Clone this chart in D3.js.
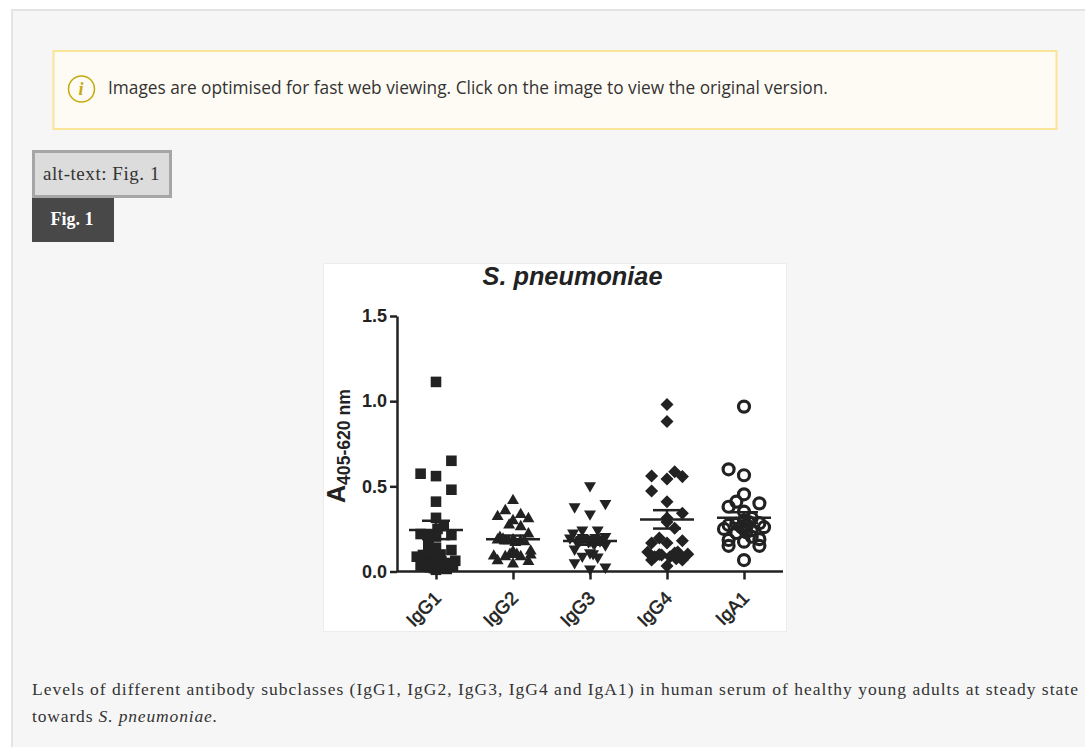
<!DOCTYPE html>
<html>
<head>
<meta charset="utf-8">
<title>S. pneumoniae</title>
<script src="https://cdn.jsdelivr.net/npm/d3@7"></script>
<style>
  html, body { margin: 0; padding: 0; background: #fff; overflow: hidden; }
  svg { display: block; }
</style>
</head>
<body>
<div id="chart"></div>
<script>
// Data
var categories = ['IgG1', 'IgG2', 'IgG3', 'IgG4', 'IgA1'];
var yTicks = [0, 0.5, 1.0, 1.5];

var igg1Values = [1.113, 0.65, 0.574, 0.56, 0.48, 0.41, 0.315, 0.267, 0.22, 0.205, 0.214, 0.155, 0.126, 0.087, 0.087, 0.063, 0.097, 0.16, 0.14, 0.035, 0.03, 0.025, 0.02, 0.015, 0.03, 0.02, 0.015, 0.035, 0.01, 0.04, 0.05, 0.05, 0.06, 0.03, 0.06, 0.1, 0.1, 0.21, 0.25, 0.11];
var igg1Spread = [0, 2, -2, 0, 2, 0, 0, 1, -2, 0, 2, -1, 2, -2.5, 0, 2.5, -1.7, -1, 0, -2, -1.4, -0.8, -0.3, 0, 0.4, 0.9, 1.4, 1.9, 0, -1, -1.5, 1.5, -0.5, 2.2, 0.7, -1, 0.6, -1, 0.2, -1];

var igg2Values = [0.416, 0.357, 0.322, 0.334, 0.31, 0.298, 0.272, 0.263, 0.22, 0.2, 0.185, 0.185, 0.18, 0.18, 0.18, 0.116, 0.087, 0.1, 0.09, 0.063, 0.087, 0.097, 0.058, 0.044, 0.1, 0.12, 0.19, 0.17, 0.175];
var igg2Spread = [0, -1, -2, 1, 2, 0, -0.5, 1, 2, -1.7, -2, 0, -1, 1, -0.6, 0, -1, -0.4, -2.5, -2, 1, 2.3, 2, 0, 0.5, 2.3, -1.3, 0.3, 1.5];

var igg3Values = [0.504, 0.38, 0.4, 0.338, 0.244, 0.244, 0.226, 0.197, 0.206, 0.2, 0.19, 0.18, 0.17, 0.19, 0.18, 0.175, 0.132, 0.156, 0.09, 0.11, 0.105, 0.085, 0.052, 0.015, 0.026, 0.185, 0.195, 0.175, 0.165, 0.2, 0.185];
var igg3Spread = [0, -2, 2, 0, -1, 1, -2.2, -2.6, 2, -1, -0.4, 0, 0.4, 1, 1.3, -1.7, -2, 2, -1, 0, 0.4, 1, -2, 0, 2, -1.3, -0.8, -0.2, 0.6, 0.7, 1.6];

var igg4Values = [0.98, 0.88, 0.56, 0.543, 0.586, 0.557, 0.473, 0.41, 0.342, 0.314, 0.254, 0.29, 0.197, 0.167, 0.167, 0.18, 0.114, 0.087, 0.067, 0.097, 0.108, 0.067, 0.102, 0.085, 0.032, 0.087, 0.1, 0.075, 0.115];
var igg4Spread = [0, 0, -2, 0, 1, 2, -2, 0, 2, 0, 1, 0, -1, -2, 0, 2, -2.5, -1.6, -2, -0.7, 1, 2, 2.7, 1.7, 0, 0.4, -1, 1.2, 1.4];

var iga1Values = [0.968, 0.6, 0.565, 0.453, 0.41, 0.38, 0.4, 0.351, 0.314, 0.3, 0.273, 0.28, 0.284, 0.25, 0.26, 0.25, 0.243, 0.226, 0.185, 0.151, 0.175, 0.19, 0.151, 0.204, 0.067, 0.27, 0.26, 0.29, 0.23];
var iga1Spread = [0, -2, 0, 0, -1, -2, 2, 0, 1, 0, -2, -1, 2, -2.6, 2.6, 0, 1, -1, -2, -2, 0, 2, 2, 1, 0, 0.4, -0.3, 0.6, 0.3];

var means = [0.244, 0.189, 0.179, 0.306, 0.316];
var sems = [0.054, 0.022, 0.022, 0.054, 0.032];

var values = [igg1Values, igg2Values, igg3Values, igg4Values, iga1Values];
var spreads = [igg1Spread, igg2Spread, igg3Spread, igg4Spread, iga1Spread];

// Create SVG Element
var pageWidth = 1085;
var pageHeight = 747;
var svg = d3.select('#chart')
    .append('svg')
    .attr('width', pageWidth)
    .attr('height', pageHeight);

var serif = '"Liberation Serif", serif';
var sans = '"Liberation Sans", Arial, sans-serif';
var ink = '#222';

// Page panel
svg.append('rect')
    .attr('x', 12).attr('y', 10)
    .attr('width', pageWidth).attr('height', pageHeight)
    .attr('fill', '#f6f6f6')
    .attr('stroke', '#e4e4e4')
    .attr('stroke-width', 2);

// Notice box
svg.append('rect')
    .attr('x', 53.5).attr('y', 51)
    .attr('width', 1003).attr('height', 78)
    .attr('fill', '#fefbf4')
    .attr('stroke', '#f9e498')
    .attr('stroke-width', 2);
svg.append('circle')
    .attr('cx', 81.5).attr('cy', 89).attr('r', 13)
    .attr('fill', 'none')
    .attr('stroke', '#c4ab0c')
    .attr('stroke-width', 1.5);
svg.append('text')
    .attr('x', 81).attr('y', 95)
    .attr('text-anchor', 'middle')
    .attr('font-family', serif)
    .attr('font-size', 18)
    .attr('font-style', 'italic')
    .attr('font-weight', 'bold')
    .attr('fill', '#c4ab0c')
    .text('i');
svg.append('text')
    .attr('x', 108).attr('y', 93.5)
    .attr('font-family', '"Open Sans", sans-serif')
    .attr('font-size', 17.3)
    .attr('fill', '#333')
    .text('Images are optimised for fast web viewing. Click on the image to view the original version.');

// Alt text and figure label
svg.append('rect')
    .attr('x', 33.5).attr('y', 151.5)
    .attr('width', 137).attr('height', 45)
    .attr('fill', '#dcdcdc')
    .attr('stroke', '#a6a6a6')
    .attr('stroke-width', 3);
svg.append('text')
    .attr('x', 43).attr('y', 180)
    .attr('font-family', serif)
    .attr('font-size', 19)
    .attr('letter-spacing', 0.55)
    .attr('fill', '#333')
    .text('alt-text: Fig. 1');
svg.append('rect')
    .attr('x', 32).attr('y', 198)
    .attr('width', 82).attr('height', 44)
    .attr('fill', '#484848');
svg.append('text')
    .attr('x', 50.5).attr('y', 225)
    .attr('font-family', serif)
    .attr('font-size', 18)
    .attr('font-weight', 'bold')
    .attr('fill', '#fff')
    .text('Fig. 1');

// Figure background
svg.append('rect')
    .attr('x', 323.5).attr('y', 263.5)
    .attr('width', 463).attr('height', 368)
    .attr('fill', '#fff')
    .attr('stroke', '#ececec');

// Create Scale
var scaleX = d3.scalePoint()
    .domain(categories)
    .range([436, 744]);

var scaleY = d3.scaleLinear()
    .domain([0, 1.5])
    .range([571.5, 316]);

var scaleSpread = d3.scaleLinear()
    .domain([-1, 1])
    .range([-7.7, 7.7]);

// Symbols, one per antibody subclass
var symbolPaths = [
  d3.symbol().type(d3.symbolSquare).size(112)(),
  d3.symbol().type(d3.symbolTriangle).size(62)(),
  d3.symbol().type(d3.symbolTriangle).size(62)(),
  d3.symbol().type(d3.symbolDiamond2).size(108)(),
  d3.symbol().type(d3.symbolCircle).size(95)()
];

// Bind Data and create points
categories.forEach(function(cat, c) {
  svg.append('g')
      .selectAll('path')
      .data(values[c])
      .enter()
      .append('path')
      .attr('d', symbolPaths[c])
      .attr('transform', function(d, i) {
        var t = 'translate(' + (scaleX(cat) + scaleSpread(spreads[c][i])) + ',' + scaleY(d) + ')';
        return c === 2 ? t + ' rotate(180)' : t;
      })
      .attr('fill', c === 4 ? 'none' : ink)
      .attr('stroke', c === 4 ? ink : 'none')
      .attr('stroke-width', 3.2);
});

// Mean and SEM lines
var meanLines = svg.append('g')
    .attr('stroke', ink)
    .attr('stroke-width', 2.5);

categories.forEach(function(cat, c) {
  var cx = scaleX(cat);
  meanLines.append('line')
      .attr('x1', cx - 27).attr('x2', cx + 27)
      .attr('y1', scaleY(means[c])).attr('y2', scaleY(means[c]));
  [means[c] - sems[c], means[c] + sems[c]].forEach(function(v) {
    meanLines.append('line')
        .attr('x1', cx - 14).attr('x2', cx + 14)
        .attr('y1', scaleY(v)).attr('y2', scaleY(v));
  });
  meanLines.append('line')
      .attr('x1', cx).attr('x2', cx)
      .attr('y1', scaleY(means[c] - sems[c])).attr('y2', scaleY(means[c] + sems[c]));
});

// Axes
var axisLeft = d3.axisLeft(scaleY)
    .tickValues(yTicks)
    .tickFormat(d3.format('.1f'))
    .tickSize(7)
    .tickSizeOuter(0)
    .tickPadding(3);

var yAxis = svg.append('g')
    .attr('transform', 'translate(397,0)')
    .call(axisLeft);
yAxis.selectAll('text')
    .attr('font-family', sans)
    .attr('font-size', 18)
    .attr('font-weight', 'bold')
    .attr('fill', ink);

var axisBottom = d3.axisBottom(scaleX)
    .tickSize(8)
    .tickSizeOuter(0);

var xAxis = svg.append('g')
    .attr('transform', 'translate(0,571.5)')
    .call(axisBottom);
xAxis.select('.domain')
    .attr('d', d3.line()([[397, 0], [783, 0]]));
xAxis.selectAll('text')
    .attr('font-family', sans)
    .attr('font-size', 18.5)
    .attr('fill', ink)
    .attr('stroke', ink)
    .attr('stroke-width', 0.55)
    .attr('text-anchor', 'end')
    .attr('dy', 0)
    .attr('transform', 'translate(-2,20) rotate(-45)');

svg.selectAll('.domain, .tick line')
    .attr('stroke', ink)
    .attr('stroke-width', 2.5);

// Titles
svg.append('text')
    .attr('x', 572.5).attr('y', 285)
    .attr('text-anchor', 'middle')
    .attr('font-family', sans)
    .attr('font-size', 25.3)
    .attr('font-style', 'italic')
    .attr('font-weight', 'bold')
    .attr('fill', ink)
    .text('S. pneumoniae');

var yLabel = svg.append('text')
    .attr('transform', 'translate(345,503) rotate(-90)')
    .attr('font-family', sans)
    .attr('font-weight', 'bold')
    .attr('fill', ink);
yLabel.append('tspan')
    .attr('font-size', 25)
    .text('A');
yLabel.append('tspan')
    .attr('font-size', 17.6)
    .attr('dy', 5)
    .text('405-620 nm');

// Caption
var caption1 = svg.append('text')
    .attr('x', 32).attr('y', 695)
    .attr('font-family', serif)
    .attr('font-size', 17.5)
    .attr('textLength', 1046)
    .attr('fill', '#333')
    .text('Levels of different antibody subclasses (IgG1, IgG2, IgG3, IgG4 and IgA1) in human serum of healthy young adults at steady state');

var caption2 = svg.append('text')
    .attr('x', 32).attr('y', 722)
    .attr('font-family', serif)
    .attr('font-size', 17.5)
    .attr('letter-spacing', 0.85)
    .attr('fill', '#333');
caption2.append('tspan').text('towards ');
caption2.append('tspan').attr('font-style', 'italic').text('S. pneumoniae.');
</script>
</body>
</html>
